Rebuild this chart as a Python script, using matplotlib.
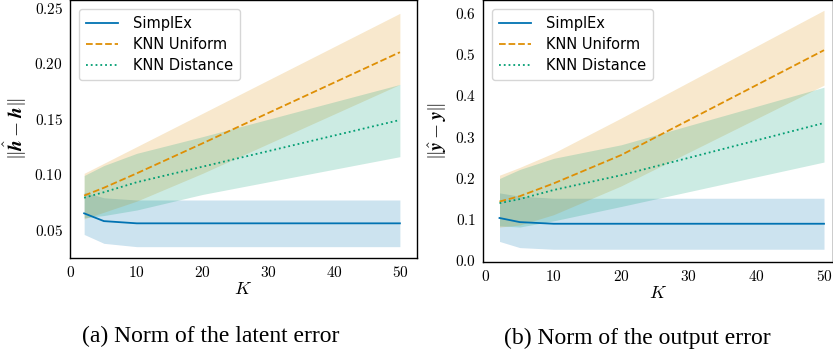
import numpy as np
import matplotlib
matplotlib.use("Agg")
import matplotlib.pyplot as plt
from matplotlib.ticker import FuncFormatter

plt.rcParams['mathtext.fontset'] = 'cm'
plt.rcParams['font.family'] = 'DejaVu Sans'

K = [2, 5, 10, 20, 50]

# latent error
lat_simplex = [0.065, 0.058, 0.056, 0.056, 0.056]
lat_simplex_lo = [0.046, 0.038, 0.035, 0.035, 0.035]
lat_simplex_hi = [0.084, 0.079, 0.077, 0.077, 0.077]
lat_unif = [0.081, 0.088, 0.101, 0.128, 0.210]
lat_unif_lo = [0.060, 0.066, 0.076, 0.101, 0.181]
lat_unif_hi = [0.101, 0.110, 0.125, 0.155, 0.245]
lat_dist = [0.079, 0.084, 0.093, 0.107, 0.149]
lat_dist_lo = [0.061, 0.063, 0.068, 0.082, 0.116]
lat_dist_hi = [0.099, 0.108, 0.119, 0.134, 0.181]

# output error
out_simplex = [0.102, 0.092, 0.088, 0.088, 0.088]
out_simplex_lo = [0.045, 0.030, 0.026, 0.026, 0.026]
out_simplex_hi = [0.163, 0.155, 0.150, 0.150, 0.150]
out_unif = [0.142, 0.155, 0.186, 0.255, 0.510]
out_unif_lo = [0.080, 0.085, 0.110, 0.180, 0.425]
out_unif_hi = [0.206, 0.225, 0.260, 0.345, 0.607]
out_dist = [0.138, 0.148, 0.170, 0.206, 0.333]
out_dist_lo = [0.083, 0.080, 0.095, 0.130, 0.238]
out_dist_hi = [0.198, 0.220, 0.247, 0.280, 0.420]

blue, orange, green = '#0173b2', '#de8f05', '#029e73'

fig = plt.figure(figsize=(8.33, 3.6), dpi=100)
W, H = 833, 360
ax1 = fig.add_axes([70 / W, 1 - 258 / H, 347 / W, 258 / H])
ax2 = fig.add_axes([483 / W, 1 - 262 / H, 350 / W, 262 / H])


def draw(ax, s, slo, shi, u, ulo, uhi, d, dlo, dhi):
    ax.fill_between(K, slo, shi, color=blue, alpha=0.2, lw=0)
    ax.fill_between(K, ulo, uhi, color=orange, alpha=0.2, lw=0)
    ax.fill_between(K, dlo, dhi, color=green, alpha=0.2, lw=0)
    ax.plot(K, s, color=blue, lw=1.3, label='SimplEx')
    ax.plot(K, u, color=orange, lw=1.3, ls='--', label='KNN Uniform')
    ax.plot(K, d, color=green, lw=1.3, ls=':', label='KNN Distance')
    ax.set_xticks([0, 10, 20, 30, 40, 50])
    ax.xaxis.set_major_formatter(FuncFormatter(lambda v, p: r'$%d$' % v))
    ax.tick_params(length=0, labelsize=11, pad=5)
    ax.set_xlabel(r'$K$', fontsize=13, labelpad=0)
    for sp in ax.spines.values():
        sp.set_color('black')
        sp.set_linewidth(1.0)
    leg = ax.legend(loc='upper left', fontsize=10.5, frameon=True,
                    borderpad=0.5, handlelength=2.2, labelspacing=0.4,
                    handletextpad=1.0, bbox_to_anchor=(0.0, 1.0),
                    borderaxespad=0.6)
    leg.get_frame().set_edgecolor('#cccccc')


draw(ax1, lat_simplex, lat_simplex_lo, lat_simplex_hi, lat_unif, lat_unif_lo,
     lat_unif_hi, lat_dist, lat_dist_lo, lat_dist_hi)
ax1.set_xlim(-0.15, 52.6)
ax1.set_ylim(0.0248, 0.257)
ax1.set_yticks([0.05, 0.10, 0.15, 0.20, 0.25])
ax1.yaxis.set_major_formatter(FuncFormatter(lambda v, p: r'$%.2f$' % v))
ax1.set_ylabel(r'$\|\hat{\boldsymbol{h}}-\boldsymbol{h}\|$', fontsize=14)

draw(ax2, out_simplex, out_simplex_lo, out_simplex_hi, out_unif, out_unif_lo,
     out_unif_hi, out_dist, out_dist_lo, out_dist_hi)
ax2.set_xlim(-0.44, 51.33)
ax2.set_ylim(-0.005, 0.632)
ax2.set_yticks([0.0, 0.1, 0.2, 0.3, 0.4, 0.5, 0.6])
ax2.yaxis.set_major_formatter(FuncFormatter(lambda v, p: r'$%.1f$' % v))
ax2.set_ylabel(r'$\|\hat{\boldsymbol{y}}-\boldsymbol{y}\|$', fontsize=14)

fig.text(211 / W, 1 - 336 / H, '(a) Norm of the latent error', ha='center',
         va='center', fontsize=17, family='Liberation Serif')
fig.text(637 / W, 1 - 338 / H, '(b) Norm of the output error', ha='center',
         va='center', fontsize=17, family='Liberation Serif')

fig.savefig('out.png', dpi=100)
